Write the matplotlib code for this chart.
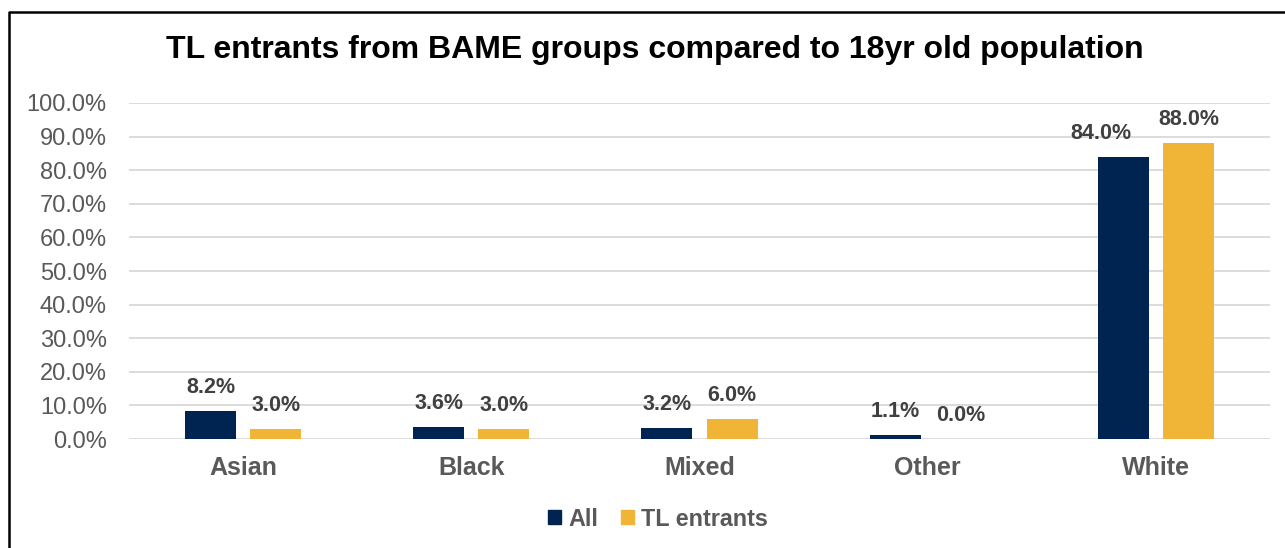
import matplotlib
matplotlib.use("Agg")
import matplotlib.pyplot as plt
from matplotlib.ticker import MultipleLocator, FuncFormatter
from matplotlib.lines import Line2D
from matplotlib.patches import Patch
import numpy as np

categories = ["Asian", "Black", "Mixed", "Other", "White"]
all_values = [8.2, 3.6, 3.2, 1.1, 84.0]
tl_values = [3.0, 3.0, 6.0, 0.0, 88.0]
series_names = ["All", "TL entrants"]
title = "TL entrants from BAME groups compared to 18yr old population"

navy = "#002452"
gold = "#F0B437"
font = "Liberation Sans"

fig = plt.figure(figsize=(12.85, 5.48), dpi=100)
ax = fig.add_axes([129/1285, 109/548, (1270-129)/1285, (439-103)/548])

x = np.arange(len(categories))
w = 0.224
off = 0.143
b1 = ax.bar(x - off, all_values, w, color=navy, zorder=3)
b2 = ax.bar(x + off, tl_values, w, color=gold, zorder=3)

for si, (bars, vals) in enumerate(((b1, all_values), (b2, tl_values))):
    for ci, (rect, v) in enumerate(zip(bars, vals)):
        # the reference nudges the last "All" label left to avoid its neighbour
        dx = -16 if (si == 0 and ci == len(vals) - 1) else 0
        ax.annotate(f"{v:.1f}%", (rect.get_x() + rect.get_width()/2, v),
                    xytext=(dx, 17), textcoords="offset points", ha="center", va="center",
                    fontsize=15.5, fontweight="bold", color="#404040", family=font)

ax.set_xlim(-0.5, len(categories) - 0.5)
ax.set_ylim(0, 100)
ax.yaxis.set_major_locator(MultipleLocator(10))
ax.yaxis.set_major_formatter(FuncFormatter(lambda v, p: f"{v:.1f}%"))
ax.grid(axis="y", color="#D9D9D9", linewidth=1.3, zorder=0)
for s in ax.spines.values():
    s.set_visible(False)
ax.tick_params(axis="both", length=0)
ax.tick_params(axis="y", pad=16, labelsize=17, labelcolor="#595959")
ax.set_xticks(x)
ax.set_xticklabels(categories)
ax.tick_params(axis="x", pad=12.5, labelsize=18, labelcolor="#595959")
for lab in ax.get_xticklabels():
    lab.set_fontweight("bold"); lab.set_family(font)
for lab in ax.get_yticklabels():
    lab.set_family(font)

fig.text(655/1285, 1 - 50/548, title, ha="center", va="center",
         fontsize=23, fontweight="bold", color="black", family=font)

handles = [Patch(color=navy), Patch(color=gold)]
leg = fig.legend(handles, series_names, loc="center", bbox_to_anchor=(658/1285, 1 - 519/548),
                 ncol=2, frameon=False, handlelength=0.55, handleheight=0.55, handletextpad=0.3,
                 columnspacing=1.0, prop={"family": font, "weight": "bold", "size": 16.8})
for t in leg.get_texts():
    t.set_color("#595959")

fig.add_artist(Line2D([8.5/1285, 8.5/1285, 1], [0, 1 - 11.5/548, 1 - 11.5/548],
                      transform=fig.transFigure, color="black", linewidth=1.8))

fig.savefig("out.png", dpi=100)
